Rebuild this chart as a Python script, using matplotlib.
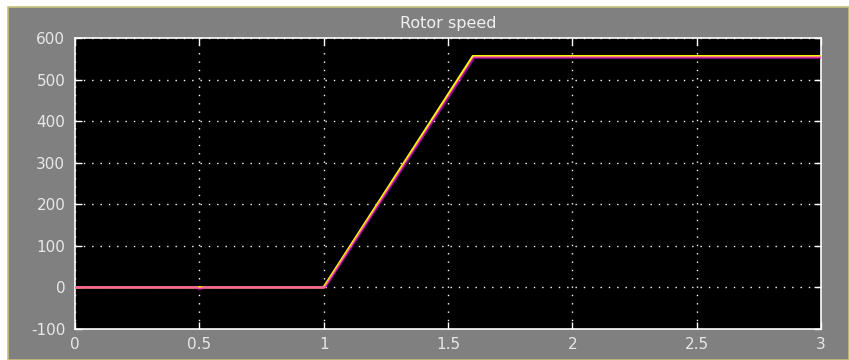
import matplotlib.pyplot as plt
import matplotlib.patches as mpatches

plt.rcParams['axes.unicode_minus'] = False

# reference speed (yellow) and measured rotor speed (magenta)
t_ref = [0.0, 1.0, 1.60, 3.0]
w_ref = [0, 0, 556, 556]

t_act = [0.0, 0.49, 0.50, 0.52, 1.0, 1.005, 1.605, 3.0]
w_act = [0, 0, -4, 0, 0, 0, 553, 553]

x_ticks = [0, 0.5, 1, 1.5, 2, 2.5, 3]
x_labels = ['0', '0.5', '1', '1.5', '2', '2.5', '3']
y_ticks = [-100, 0, 100, 200, 300, 400, 500, 600]

W, H = 849, 360
fig = plt.figure(figsize=(W / 100, H / 100), dpi=100, facecolor='white')

# grey scope window with a thin border, white margin top and left
bg = mpatches.Rectangle((8 / W, 0), 1 - 8 / W, (H - 7) / H, transform=fig.transFigure,
                        facecolor='#808080', edgecolor='#c8c078', linewidth=1.2, zorder=-10)
fig.add_artist(bg)

ax = fig.add_axes([75 / W, 31 / H, 746 / W, 291 / H])
ax.set_zorder(1)
ax.set_facecolor('black')

ax.plot(t_ref, w_ref, color='#ffff00', lw=1.8, zorder=3)
ax.plot(t_act, w_act, color='#ff00ff', lw=1.8, alpha=0.6, zorder=4)

ax.set_xlim(0, 3)
ax.set_ylim(-100, 600)
ax.set_xticks(x_ticks)
ax.set_xticklabels(x_labels)
ax.set_yticks(y_ticks)

ax.grid(True, color='white', linestyle=(0, (1, 5)), linewidth=1.0)
ax.tick_params(direction='in', length=5, color='white', labelcolor='#e8e8e8',
               labelsize=11, top=True, right=True, width=1, pad=7)
ax.tick_params(axis='x', pad=6)
for s in ax.spines.values():
    s.set_color('white')
    s.set_linewidth(1.2)

ax.set_title('Rotor speed', color='#f0f0f0', fontsize=11.5, pad=7)

fig.savefig('out.png', dpi=100, facecolor=fig.get_facecolor())
